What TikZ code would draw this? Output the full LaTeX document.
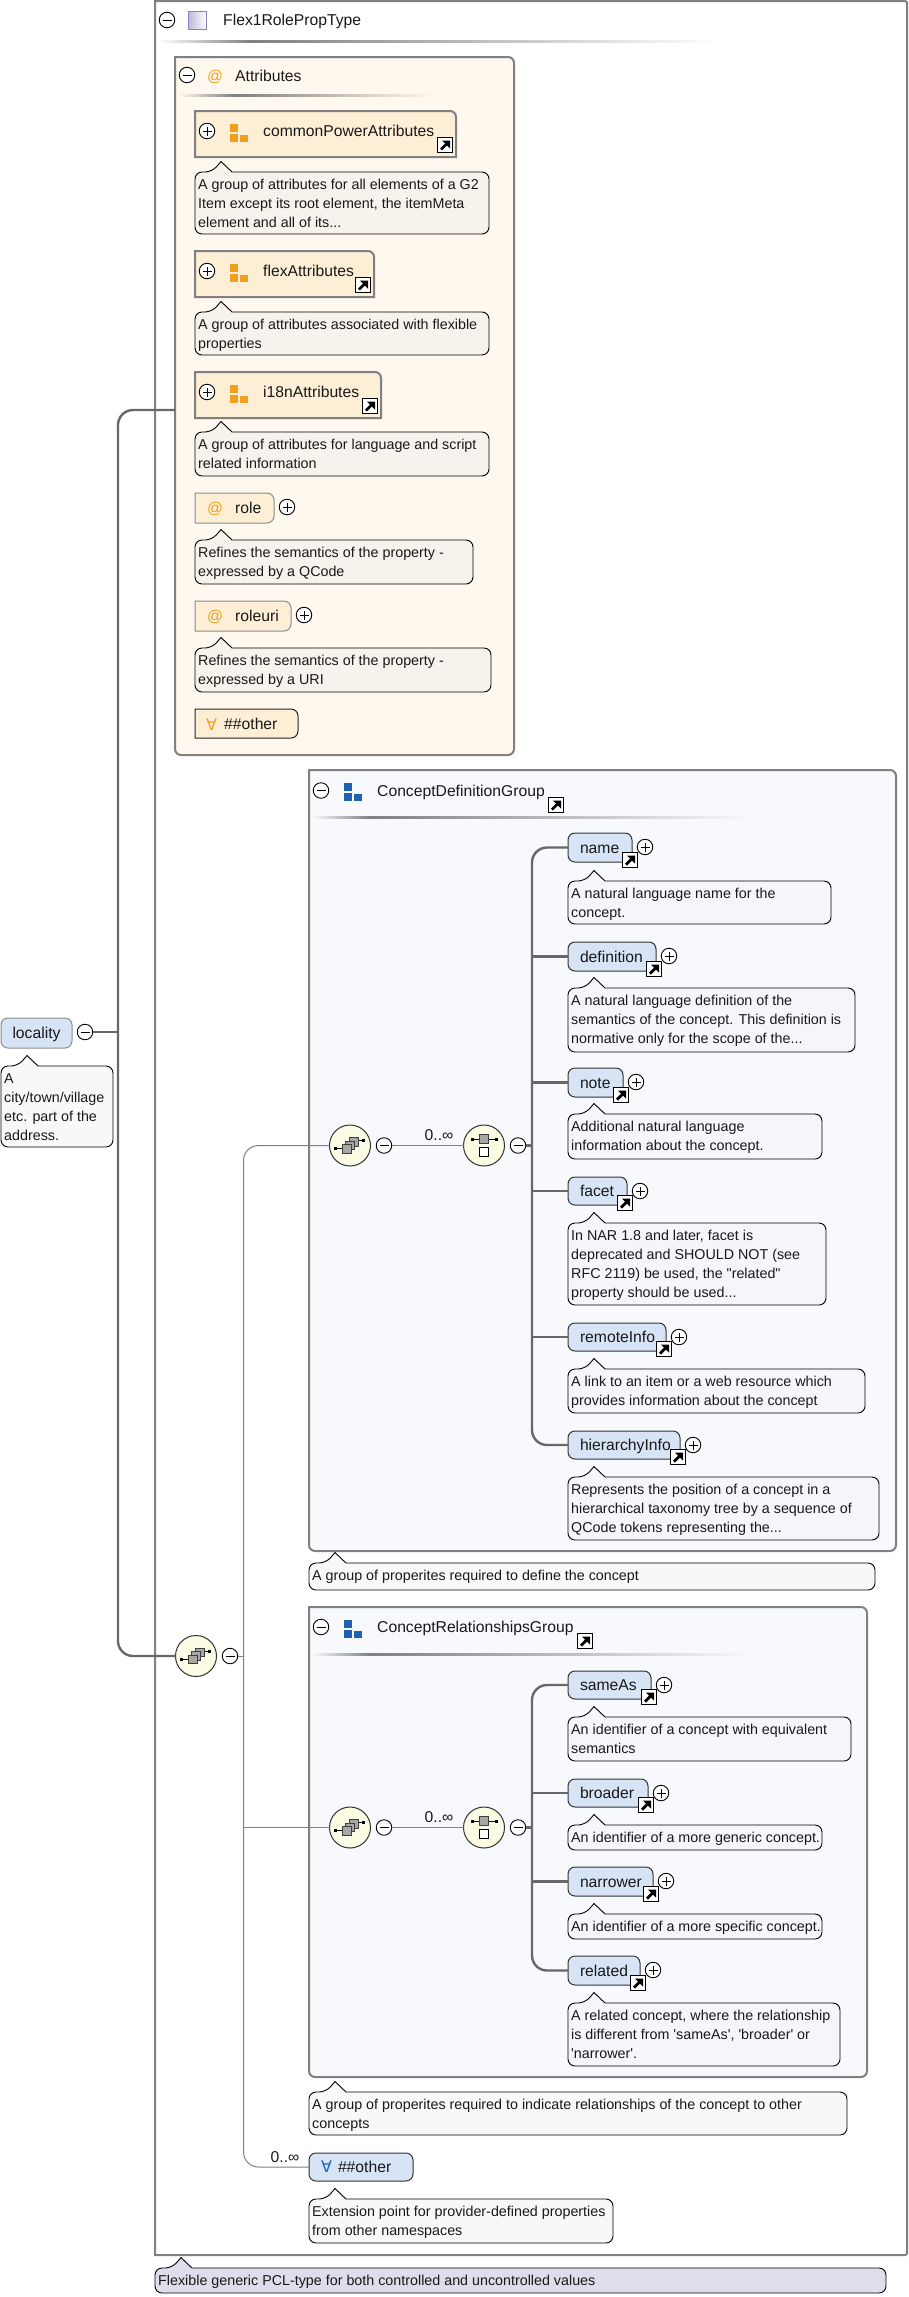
\documentclass[tikz,border=0pt]{standalone}
\usepackage{fontspec}
\usetikzlibrary{calc}
\newfontfamily\arialf{Liberation Sans}[Ligatures=CommonOff]
\newfontfamily\symf{DejaVu Sans}
\definecolor{bord}{HTML}{808080}
\definecolor{conn}{HTML}{686868}
\definecolor{attrbg}{HTML}{FFF8EE}
\definecolor{attrel}{HTML}{FDEFD6}
\definecolor{groupbg}{HTML}{F8F9FD}
\definecolor{elbg}{HTML}{D7E4F6}
\definecolor{cmtattr}{HTML}{F6F3EC}
\definecolor{cmtgrp}{HTML}{F5F6F9}
\definecolor{cmtwhite}{HTML}{F8F8F8}
\definecolor{cmttype}{HTML}{E0DCEB}
\definecolor{orng}{HTML}{EFA11E}
\definecolor{blu}{HTML}{1F63B0}
\definecolor{purp}{HTML}{8F7FC0}
\definecolor{symbg}{HTML}{FCFBE4}
\tikzset{
  x=1pt,y=-1pt,
  hfont/.style={font=\arialf\fontsize{15.7}{19}\selectfont},
  hdr/.style={hfont,anchor=base west,inner sep=0pt,text=black!90},
  cmt/.style={font=\arialf\fontsize{14.3}{19}\selectfont,align=left,inner sep=0pt,anchor=north west,text=black!90},
  cmtbox/.style={draw=black,line width=.9pt},
  elem/.style={hfont,draw=#1,fill=elbg,line width=1pt,rounded corners=7pt,anchor=north west,inner ysep=0pt,inner xsep=12pt,align=left,text height=12pt,text depth=1pt,text=black!90,outer sep=0pt},
  elem/.default={black!80},
  tog/.style={circle,draw=black,fill=white,line width=.9pt,minimum size=15.5pt,inner sep=0pt,outer sep=0pt},
  symb/.style={circle,draw=black!80,fill=symbg,line width=1pt,minimum size=41pt,inner sep=0pt,outer sep=0pt},
  ghost/.style={inner sep=0pt,outer sep=0pt,anchor=north west},
  thickc/.style={draw=conn,line width=2.4pt},
  thinc/.style={draw=bord,line width=1pt},
  panelb/.style={draw=bord,line width=2pt},
  lbl/.style={hfont,inner sep=0pt,text=black!90,anchor=base},
}
% togglers
\newcommand\togm[3]{\node[tog] (#1) at (#2,#3) {};
  \draw[black,line width=.9pt] ([xshift=-4.5pt]#1.center)--([xshift=4.5pt]#1.center);}
\newcommand\togp[3]{\togm{#1}{#2}{#3}
  \draw[black,line width=.9pt] ([yshift=-4.5pt]#1.center)--([yshift=4.5pt]#1.center);}
% link icon (top-left x,y)
\newcommand\linkicon[2]{%
  \draw[black,fill=white,line width=1pt] (#1+.5,#2+.5) rectangle (#1+15.5,#2+15.5);
  \fill[black] (#1+5,#2+3.5)--(#1+13,#2+3.5)--(#1+13,#2+11.5)--cycle;
  \draw[black,line width=2.8pt] (#1+4,#2+12.5)--(#1+9.5,#2+7);}
% comment: name x1 y1 x2 y2 fill text
\newcommand\comment[7]{%
  \draw[cmtbox,fill=#6] (#2+37,#3) [rounded corners=7pt] -- (#4,#3) -- (#4,#5) -- (#2,#5) -- (#2,#3) -- (#2+17,#3) [sharp corners] -- (#2+26,#3-10.5) -- cycle;
  \node[cmt] (#1) at (#2+3,#3+6.6) {\rule{0pt}{11pt}#7};}
% panel: name x1 y1 x2 y2 fill radius
\newcommand\panel[7]{%
  \draw[panelb,fill=#6] (#2,#3) [rounded corners=#7] -- (#4,#3) -- (#4,#5) -- (#2,#5) [sharp corners] -- cycle;
  \node[ghost,minimum width={(#4-#2)*1pt},minimum height={(#5-#3)*1pt}] (#1) at (#2,#3) {};}
% attribute group box (only top right rounded)
\newcommand\agroup[6]{%
  \draw[panelb,fill=attrel] (#2,#3) [rounded corners=6pt] -- (#4,#3) [sharp corners] -- (#4,#5) -- (#2,#5) -- cycle;
  \node[ghost,minimum width={(#4-#2)*1pt},minimum height={(#5-#3)*1pt}] (#1) at (#2,#3) {};
  \togp{#1T}{#2+12}{#3+20}
  \grp{#2+35}{#3+13}{orng}
  \node[hdr] (#1L) at (#2+68,#3+25.5) {#6};
  \linkicon{#4-19}{#5-20}}
% group icon
\newcommand\grp[3]{%
  \fill[#3] (#1,#2) rectangle (#1+8,#2+8);
  \fill[#3] (#1,#2+10) rectangle (#1+8,#2+18);
  \fill[#3] (#1+10,#2+11) rectangle (#1+18,#2+18);}
% separator
\newcommand\sepline[5]{%
  \shade[left color=#5,right color=bord] (#1,#4-1) rectangle (#2,#4+1);
  \shade[left color=bord,right color=#5] (#2,#4-1) rectangle (#3,#4+1);}
% attribute: name x1 x2 y1 y2 label
\newcommand\attrib[6]{%
  \draw[draw=black!45,fill=attrel,line width=1pt] (#2,#4) [rounded corners=7pt] -- (#3,#4) -- (#3,#5) [sharp corners] -- (#2,#5) -- cycle;
  \node[ghost,minimum width={(#3-#2)*1pt},minimum height={(#5-#4)*1pt}] (#1) at (#2,#4) {};
  \node[hfont,inner sep=0pt,anchor=base,text=orng] (#1A) at (215,#4+20.5) {@};
  \node[hdr] (#1L) at (235,#4+20.5) {#6};
  \togp{#1T}{#3+13}{#4+14}}
% element: name right top bottom label
\newcommand\elnode[5]{%
  \pgfmathsetmacro\elw{#2-568-24}
  \pgfmathsetmacro\elh{#4-#3}
  \node[elem,text width=\elw pt,minimum height=\elh pt] (#1) at (568,#3) {#5};
  \linkicon{#2-10}{#4-10}
  \togp{#1T}{#2+13}{#3+14}}
% choice and sequence symbols
\newcommand\seqicon[2]{%
  \begin{scope}[shift={(#1,#2)}]
  \draw[black,line width=1pt] (-14,3)--(-6,3) (5,-5)--(14,-5);
  \fill[black] (-16,1.5) rectangle (-13,4.5);
  \fill[black] (12,-6.5) rectangle (15,-3.5);
  \foreach \d in {7,3.5,0}{
    \draw[black!75,fill=black!35,line width=.8pt] (-8+\d,-1-\d) rectangle (1+\d,7.5-\d);}
  \end{scope}}
\newcommand\choiceicon[2]{%
  \begin{scope}[shift={(#1,#2)}]
  \draw[black,line width=1pt] (-12,-6.5)--(12,-6.5);
  \fill[black] (-13.5,-8) rectangle (-10.5,-5);
  \fill[black] (10.5,-8) rectangle (13.5,-5);
  \draw[black!75,fill=black!35,line width=.8pt] (-4.5,-11) rectangle (4.5,-2);
  \draw[black,fill=white,line width=.8pt] (-4.5,2) rectangle (4.5,11);
  \end{scope}}
\begin{document}
\begin{tikzpicture}
\useasboundingbox (0,0) rectangle (909,2297);
\fill[white] (0,0) rectangle (909,2297);
% ---------- outer complex type
\node[ghost,minimum width=752pt,minimum height=2254pt] (typeBox) at (155,1) {};
\draw[panelb,fill=white] (155,1) [rounded corners=2pt] -- (907,1) -- (907,2255) [sharp corners] -- (155,2255) -- cycle;
\togm{typeT}{167}{20}
\draw[purp,left color=purp!55,right color=white,line width=.8pt] (188.5,11.5) rectangle (206.5,29.5);
\node[hdr] (typeL) at (223,25.5) {Flex1RolePropType};
\sepline{158}{250}{720}{41}{white}
% ---------- attributes panel
\panel{attrs}{175}{57}{514}{755}{attrbg}{6pt}
\togm{attrsT}{187}{75}
\node[hfont,inner sep=0pt,anchor=base,text=orng] (attrsA) at (215,81.5) {@};
\node[hdr] (attrsL) at (235,81.5) {Attributes};
\sepline{178}{235}{433}{95}{attrbg}
\agroup{gCommon}{195}{111}{456}{157}{commonPowerAttributes}
\comment{cCommon}{195}{172}{489}{234}{cmtattr}{A group of attributes for all elements of a G2\\Item except its root element, the itemMeta\\element and all of its...}
\agroup{gFlex}{195}{251}{374}{297}{flexAttributes}
\comment{cFlex}{195}{312}{489}{355}{cmtattr}{A group of attributes associated with flexible\\properties}
\agroup{gI18n}{195}{372}{381}{418}{i18nAttributes}
\comment{cI18n}{195}{432}{489}{476}{cmtattr}{A group of attributes for language and script\\related information}
\attrib{aRole}{195}{274}{493}{523}{role}
\comment{cRole}{195}{540}{473}{584}{cmtattr}{Refines the semantics of the property -\\expressed by a QCode}
\attrib{aRoleuri}{195}{291}{601}{631}{roleuri}
\comment{cRoleuri}{195}{648}{491}{692}{cmtattr}{Refines the semantics of the property -\\expressed by a URI}
\draw[draw=black!85,fill=attrel,line width=1pt] (195,709) [rounded corners=7pt] -- (298,709) -- (298,738) [sharp corners] -- (195,738) -- cycle;
\node[ghost,minimum width=103pt,minimum height=29pt] (anyAttr) at (195,709) {};
\node[hfont,inner sep=0pt,anchor=base west,text=orng] (anyAttrA) at (206,730) {\symf\fontsize{16}{16}\selectfont ∀};
\node[hdr] (anyAttrL) at (224,729.5) {\#\#other};
% ---------- concept definition group
\panel{defGroup}{309}{770}{896}{1551}{groupbg}{6pt}
\togm{defT}{321}{790.5}
\grp{344}{783}{blu}
\node[hdr] (defL) at (377,796) {ConceptDefinitionGroup};
\linkicon{548}{797}
\sepline{312}{370}{750}{817}{groupbg}
% ---------- concept relationships group
\panel{relGroup}{309}{1607}{867}{2077}{groupbg}{6pt}
\togm{relT}{321}{1627}
\grp{344}{1620}{blu}
\node[hdr] (relL) at (377,1632.5) {ConceptRelationshipsGroup};
\linkicon{577}{1633}
\sepline{312}{370}{750}{1654}{groupbg}
% ---------- symbols
\node[symb] (seqTop) at (196,1656) {};
\node[symb] (seqDef) at (350,1145.5) {};
\node[symb] (chDef) at (484,1145.5) {};
\node[symb] (seqRel) at (350,1827.5) {};
\node[symb] (chRel) at (484,1827.5) {};
\coordinate (spDef) at (532,1145.5);
\coordinate (spRel) at (532,1827.5);
\coordinate (trunk) at (118,1032);
\coordinate (branch) at (243.5,1656);
% ---------- elements of definition group
\elnode{eName}{632}{833}{862}{name}
\elnode{eDefinition}{656}{942}{971}{definition}
\elnode{eNote}{623}{1068}{1097}{note}
\elnode{eFacet}{627}{1177}{1205}{facet}
\elnode{eRemote}{666}{1323}{1351}{remoteInfo}
\elnode{eHier}{680}{1431}{1459}{hierarchyInfo}
% ---------- elements of relationships group
\elnode{eSame}{651}{1671}{1699}{sameAs}
\elnode{eBroader}{648}{1779}{1807}{broader}
\elnode{eNarrower}{653}{1867}{1896}{narrower}
\elnode{eRelated}{640}{1956}{1985}{related}
% wildcard element
\node[elem,text width=80pt,minimum height=28pt] (anyEl) at (309,2153) {\makebox[17pt][l]{\textcolor{blu}{\symf\fontsize{16}{16}\selectfont ∀}}\#\#other};
% locality
\node[elem=black!45,text width=71pt,minimum height=30pt,inner xsep=0pt,align=center] (locality) at (1,1018) {locality};
\togm{locT}{85}{1032}
\togm{topT}{230}{1656}
\togm{mDef}{384}{1145.5}
\togm{mChDef}{518}{1145.5}
\togm{mRel}{384}{1827.5}
\togm{mChRel}{518}{1827.5}
% ---------- connectors
\draw[thickc] (locT.east) -- (trunk);
\draw[thickc,rounded corners=15pt] (attrs.west |- 0,410) -| (trunk) |- (seqTop.west);
\draw[thinc] (topT.east) -- (branch);
\draw[thinc,rounded corners=15pt] (seqDef.west) -| (branch) |- (anyEl.west);
\draw[thinc] (branch |- seqRel.west) -- (seqRel.west);
\draw[thinc] (mDef.east) -- (chDef.west);
\draw[thinc] (mRel.east) -- (chRel.west);
\draw[thickc] (mChDef.east) -- (spDef);
\draw[thickc] (mChRel.east) -- (spRel);
\draw[thickc,rounded corners=15pt] (eName.west) -| (spDef) |- (eHier.west);
\foreach \n in {eDefinition,eNote,eFacet,eRemote}{\draw[thickc] (\n.west) -- (spDef |- \n.west);}
\draw[thickc,rounded corners=15pt] (eSame.west) -| (spRel) |- (eRelated.west);
\foreach \n in {eBroader,eNarrower}{\draw[thickc] (\n.west) -- (spRel |- \n.west);}
\seqicon{196}{1656}
\seqicon{350}{1145.5}
\choiceicon{484}{1145.5}
\seqicon{350}{1827.5}
\choiceicon{484}{1827.5}
\node[lbl] (occDef) at (439,1140.5) {0..∞};
\node[lbl] (occRel) at (439,1822.5) {0..∞};
\node[lbl] (occAny) at (285,2162.5) {0..∞};
% ---------- comments
\comment{cLoc}{1}{1066}{113}{1147}{cmtwhite}{A\\city/town/village\\etc. part of the\\address.}
\comment{cName}{568}{881}{831}{924}{cmtgrp}{A natural language name for the\\concept.}
\comment{cDefinition}{568}{988}{855}{1052}{cmtgrp}{A natural language definition of the\\semantics of the concept. This definition is\\normative only for the scope of the...}
\comment{cNote}{568}{1114}{822}{1159}{cmtgrp}{Additional natural language\\information about the concept.}
\comment{cFacet}{568}{1223}{826}{1305}{cmtgrp}{In NAR 1.8 and later, facet is\\deprecated and SHOULD NOT (see\\RFC 2119) be used, the "related"\\property should be used...}
\comment{cRemote}{568}{1369}{865}{1413}{cmtgrp}{A link to an item or a web resource which\\provides information about the concept}
\comment{cHier}{568}{1477}{879}{1540}{cmtgrp}{Represents the position of a concept in a\\hierarchical taxonomy tree by a sequence of\\QCode tokens representing the...}
\comment{cDefGroup}{309}{1563}{875}{1590}{cmtwhite}{A group of properites required to define the concept}
\comment{cSame}{568}{1717}{851}{1761}{cmtgrp}{An identifier of a concept with equivalent\\semantics}
\comment{cBroader}{568}{1825}{822}{1850}{cmtgrp}{An identifier of a more generic concept.}
\comment{cNarrower}{568}{1914}{822}{1939}{cmtgrp}{An identifier of a more specific concept.}
\comment{cRelated}{568}{2003}{840}{2066}{cmtgrp}{A related concept, where the relationship\\is different from 'sameAs', 'broader' or\\'narrower'.}
\comment{cRelGroup}{309}{2092}{847}{2135}{cmtwhite}{A group of properites required to indicate relationships of the concept to other\\concepts}
\comment{cAny}{309}{2199}{613}{2243}{cmtwhite}{Extension point for provider-defined properties\\from other namespaces}
\comment{cType}{155}{2268}{886}{2293}{cmttype}{Flexible generic PCL-type for both controlled and uncontrolled values}
\end{tikzpicture}
\end{document}
